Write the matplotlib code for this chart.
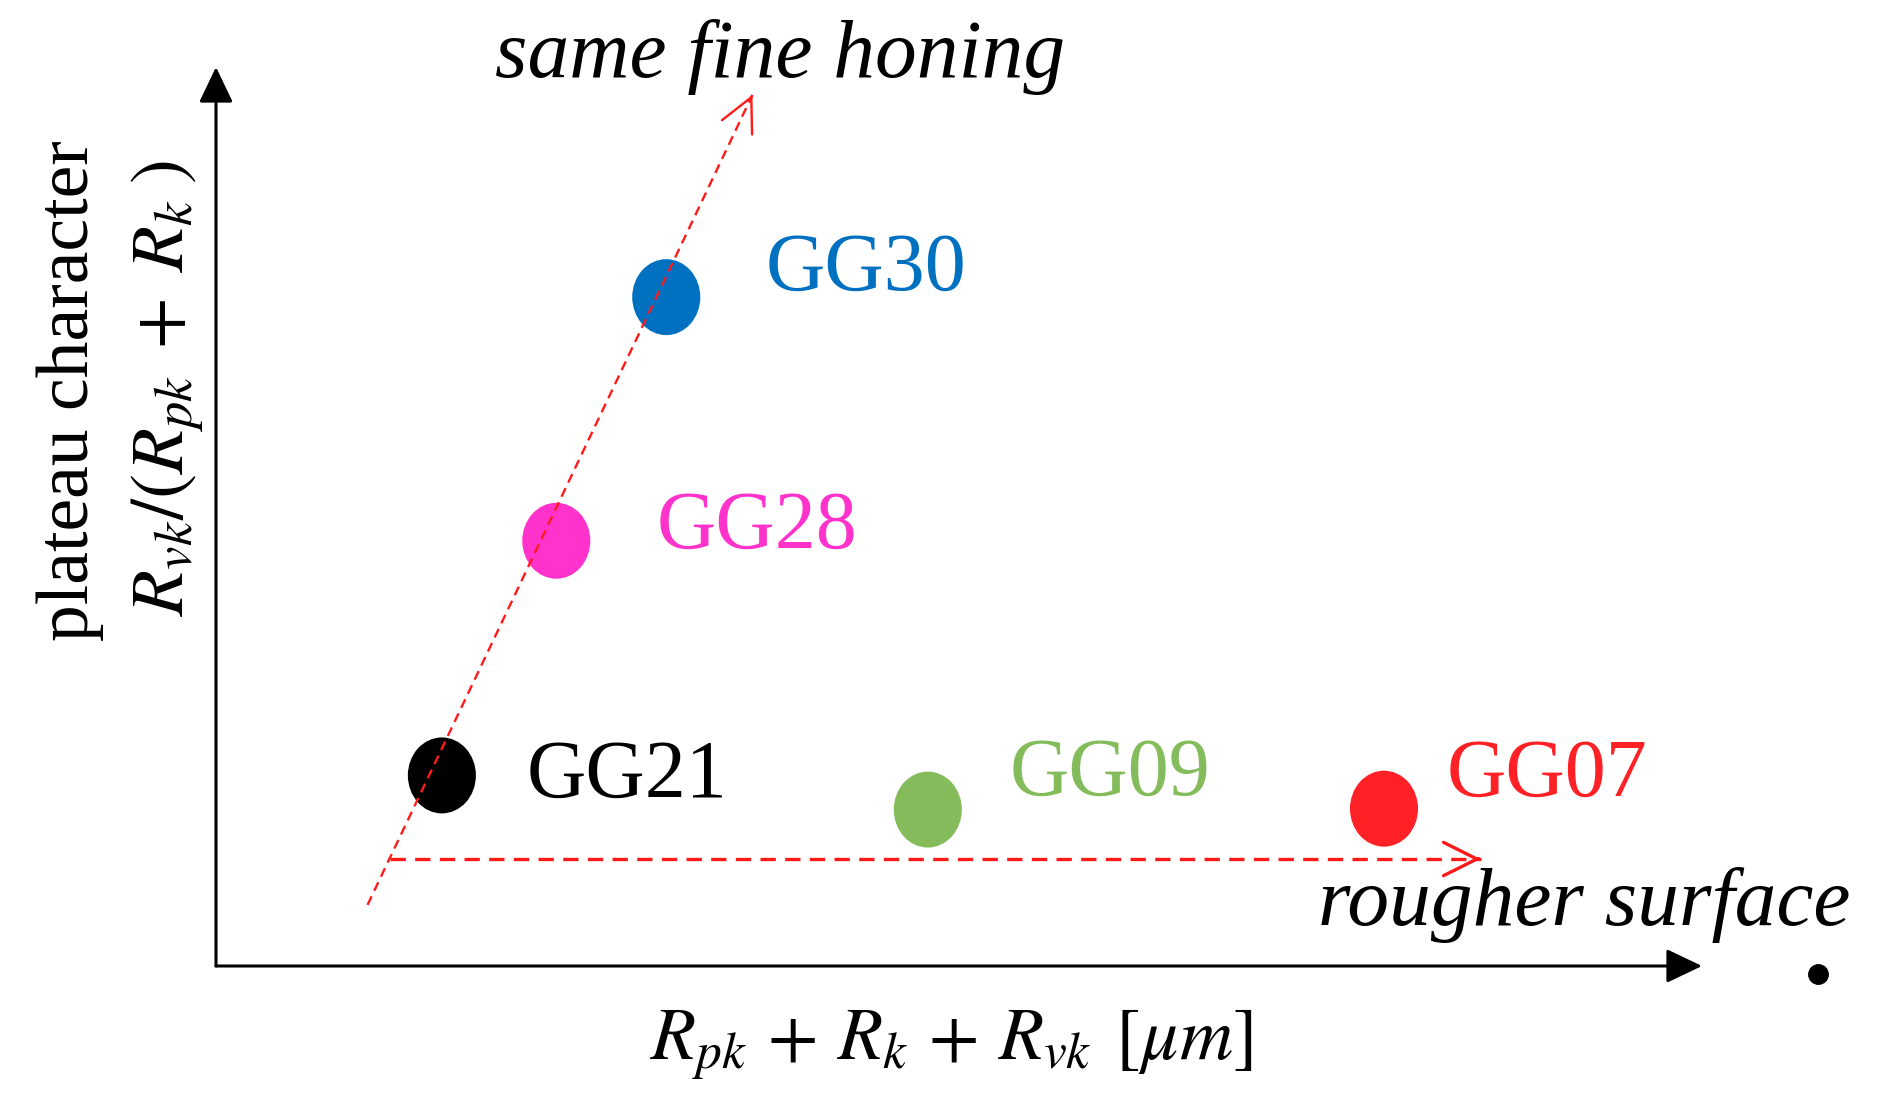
import matplotlib
matplotlib.use("Agg")
import matplotlib.pyplot as plt
from matplotlib.patches import Ellipse

# ---- data ----
samples = ["GG21", "GG28", "GG30", "GG09", "GG07"]
roughness_sum = [1.52, 2.29, 3.03, 4.79, 7.86]      # Rpk + Rk + Rvk (arbitrary units)
plateau_ratio = [2.12, 4.73, 7.44, 1.74, 1.75]      # Rvk/(Rpk+Rk) (arbitrary units)
colors = ["#000000", "#FF33CC", "#0070C0", "#84BC5C", "#FF2126"]
label_offsets_px = [(85, -21), (100, -7), (99, 7), (82, 15), (63, 13)]

honing_start = (1.02, 0.68)
honing_end = (3.61, 9.69)
rough_start = (1.17, 1.19)
rough_end = (8.51, 1.19)

plt.rcParams["mathtext.fontset"] = "stix"
SERIF = "Liberation Serif"

W, H = 1878, 1101
fig = plt.figure(figsize=(W / 100, H / 100), dpi=100)
fig.patch.set_facecolor("white")

def fx(px):
    return px / W

def fy(py):
    return 1 - py / H

ax = fig.add_axes([fx(216), fy(966), (1702 - 216) / W, (966 - 67) / H])
ax.set_xlim(0, 10)
ax.set_ylim(0, 10)
for s in ax.spines.values():
    s.set_visible(False)
ax.set_xticks([])
ax.set_yticks([])
ax.patch.set_alpha(0)

# axis arrows
axis_arrow = dict(arrowstyle="-|>,head_length=22,head_width=10.5", mutation_scale=1,
                  lw=2.2, color="black", shrinkA=0, shrinkB=0)
ax.annotate("", xy=(1, 0), xytext=(0, 0), xycoords="axes fraction",
            textcoords="axes fraction", arrowprops=axis_arrow)
ax.annotate("", xy=(0, 1), xytext=(0, 0), xycoords="axes fraction",
            textcoords="axes fraction", arrowprops=axis_arrow)

# dashed red trend arrows
def dashed_arrow(start, end, lw, dashes):
    ax.plot([start[0], end[0]], [start[1], end[1]], color="#FF1A1A", lw=lw,
            linestyle=(0, dashes), solid_capstyle="butt", zorder=3)
    dx = end[0] - start[0]
    dy = end[1] - start[1]
    back = (end[0] - dx * 0.002, end[1] - dy * 0.002)
    ax.annotate("", xy=end, xytext=back,
                arrowprops=dict(arrowstyle="->,head_length=24,head_width=12",
                                mutation_scale=1, lw=lw, color="#FF1A1A",
                                shrinkA=0, shrinkB=0), zorder=3)

# points
for x, y, c in zip(roughness_sum, plateau_ratio, colors):
    ax.add_patch(Ellipse((x, y), width=0.458, height=0.845, facecolor=c,
                         edgecolor="none", zorder=2))

dashed_arrow(honing_start, honing_end, 1.7, (4, 2.6))
dashed_arrow(rough_start, rough_end, 2.4, (4.6, 2.8))

for name, x, y, c, off in zip(samples, roughness_sum, plateau_ratio, colors, label_offsets_px):
    ax.annotate(name, xy=(x, y), xytext=off, textcoords="offset pixels",
                ha="left", va="baseline", fontsize=59, color=c, family=SERIF)

# stray dot at the end of the x axis
ax.plot([10.78], [-0.09], marker="o", markersize=14, color="black", clip_on=False)

# annotations
fig.text(fx(495), fy(77), "same fine honing", fontsize=60, style="italic",
         family=SERIF, ha="left", va="baseline")
fig.text(fx(1318), fy(925), "rougher surface", fontsize=60, style="italic",
         family=SERIF, ha="left", va="baseline")

# axis labels
fig.text(fx(70), fy(391), "plateau character", rotation=90, fontsize=53,
         family=SERIF, ha="center", va="center")
fig.text(fx(168), fy(388), r"$R_{vk}/(R_{pk}\;+\;R_k\;)$", rotation=90, fontsize=54,
         ha="center", va="center")
fig.text(fx(951), fy(1060), r"$R_{pk}\,+\,R_k\,+\,R_{vk}\;\,[\mu m]$", fontsize=53,
         ha="center", va="baseline")

fig.savefig("out.png", dpi=100, facecolor="white")
